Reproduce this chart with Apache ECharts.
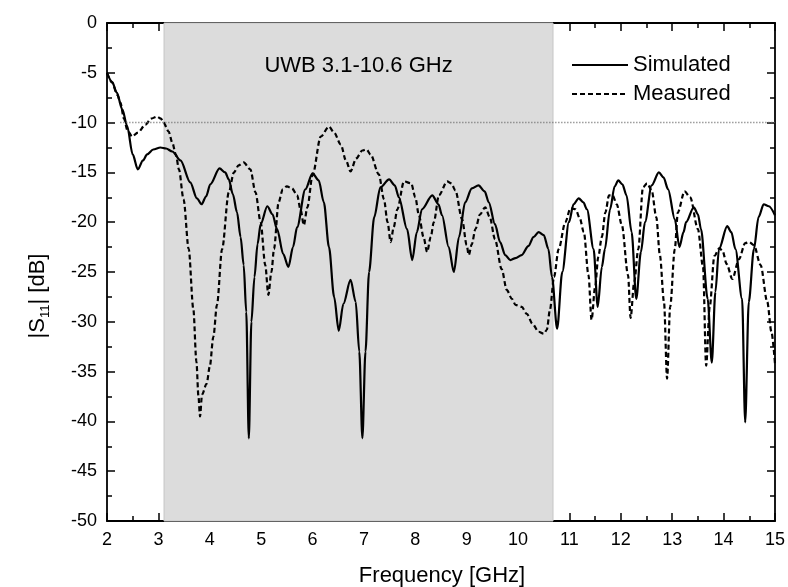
<!DOCTYPE html>
<html>
<head>
<meta charset="utf-8">
<script src="https://cdn.jsdelivr.net/npm/echarts@6/dist/echarts.min.js"></script>
<style>
html,body{margin:0;padding:0;background:#fff;}
#chart{width:788px;height:587px;}
</style>
</head>
<body>
<div id="chart"></div>
<script>
// ---- Data ----
const xTicks = [2,3,4,5,6,7,8,9,10,11,12,13,14,15];
const yTicks = [0,-5,-10,-15,-20,-25,-30,-35,-40,-45,-50];
const seriesNames = ['Simulated','Measured'];
const uwbBand = [3.11, 10.68];
const uwbLabel = 'UWB 3.1-10.6 GHz';
const refLevel = -10;
const refStart = 2.26;

const simFreq = [2.0,2.1,2.19,2.3,2.39,2.5,2.6,2.7,2.78,2.9,3.04,3.15,3.27,3.43,3.62,3.75,3.84,3.93,4.01,4.19,4.3,4.37,4.45,4.53,4.6,4.66,4.71,4.76,4.81,4.87,4.93,4.99,5.12,5.22,5.31,5.43,5.53,5.62,5.7,5.86,6.0,6.12,6.22,6.32,6.42,6.51,6.6,6.74,6.84,6.91,6.97,7.03,7.1,7.2,7.32,7.49,7.6,7.68,7.84,7.94,8.03,8.13,8.33,8.45,8.52,8.65,8.75,8.85,8.97,9.1,9.23,9.35,9.43,9.55,9.65,9.75,9.85,9.95,10.07,10.2,10.3,10.4,10.5,10.59,10.66,10.76,10.86,10.99,11.08,11.18,11.27,11.34,11.47,11.55,11.63,11.69,11.79,11.88,11.95,12.03,12.11,12.21,12.3,12.39,12.47,12.6,12.74,12.83,12.92,13.05,13.14,13.22,13.27,13.42,13.5,13.56,13.69,13.77,13.84,13.91,14.07,14.15,14.23,14.36,14.42,14.49,14.59,14.68,14.78,14.88,15.0];
const simDb = [-5.0,-5.9,-7.0,-8.7,-10.3,-13.2,-14.7,-13.8,-13.2,-12.7,-12.5,-12.6,-12.9,-13.8,-16.0,-17.6,-18.2,-17.4,-16.2,-14.6,-15.0,-15.7,-17.2,-19.0,-21.5,-24.3,-29,-41.7,-30,-25.5,-22.2,-20.2,-18.4,-19.2,-20.7,-23.2,-24.5,-22.5,-20.5,-16.7,-15.1,-15.8,-18,-22.5,-27.5,-30.9,-28.2,-25.8,-28,-33,-41.7,-33,-25,-19.5,-16.5,-15.7,-16.3,-17.5,-20.7,-23.8,-21,-18.7,-17.3,-18.2,-19.3,-22.5,-25,-21.5,-18,-16.6,-16.3,-16.9,-18,-20.2,-22,-23.3,-23.8,-23.6,-23.3,-22.4,-21.5,-21,-21.3,-22.7,-25.5,-30.7,-25,-20,-18.2,-17.6,-18,-18.7,-22.7,-28.5,-24.5,-22.7,-18.7,-16.4,-15.8,-16.2,-17.3,-21,-27.7,-23,-20,-16.3,-15.0,-15.5,-16.7,-19.7,-22.5,-21,-20,-18.5,-19.2,-20.7,-27.7,-34.1,-27,-22.7,-20.4,-21,-22.7,-27.7,-40.1,-28,-22.7,-19.5,-18.2,-18.4,-19.3];

const measFreq = [2.0,2.1,2.2,2.26,2.33,2.4,2.49,2.6,2.75,2.86,2.97,3.05,3.1,3.2,3.27,3.34,3.4,3.49,3.59,3.68,3.74,3.78,3.81,3.85,3.94,4.0,4.07,4.14,4.24,4.37,4.47,4.56,4.66,4.79,4.89,4.99,5.08,5.14,5.2,5.25,5.34,5.42,5.5,5.6,5.7,5.77,5.83,5.9,6.0,6.16,6.32,6.42,6.55,6.65,6.74,6.85,6.97,7.05,7.13,7.29,7.39,7.46,7.52,7.58,7.65,7.78,7.92,8.0,8.07,8.16,8.23,8.3,8.36,8.46,8.62,8.7,8.78,8.91,9.0,9.04,9.1,9.17,9.26,9.36,9.45,9.55,9.68,9.78,9.88,9.95,10.07,10.17,10.28,10.4,10.5,10.56,10.62,10.7,10.79,10.92,11.02,11.12,11.2,11.28,11.37,11.43,11.5,11.56,11.63,11.7,11.77,11.84,11.92,12.02,12.14,12.19,12.26,12.34,12.43,12.51,12.6,12.69,12.76,12.84,12.9,12.96,13.05,13.11,13.24,13.35,13.5,13.6,13.66,13.73,13.82,13.92,13.98,14.06,14.17,14.3,14.42,14.5,14.59,14.72,14.85,14.93,15.0];
const measDb = [-5.0,-6.0,-7.2,-8.0,-9.6,-10.8,-11.4,-11.0,-10.2,-9.6,-9.4,-9.6,-10.0,-10.9,-12.0,-13.2,-14.7,-17.7,-22.7,-28.7,-34,-37.5,-39.5,-37.3,-36.2,-34.5,-31.5,-28.3,-22.7,-17.0,-15.0,-14.3,-14.0,-14.7,-17.0,-20.0,-24.3,-27.3,-25,-22.7,-18.0,-16.7,-16.4,-16.6,-17.3,-18.8,-20.3,-18.5,-15.3,-11.4,-10.4,-11,-12.2,-13.8,-14.9,-13.6,-12.8,-12.7,-13.2,-15.2,-17.7,-20,-22.0,-20.5,-18.7,-15.9,-16.1,-17.5,-19.3,-21.5,-23.0,-21.5,-20.0,-17.3,-15.9,-16.1,-16.8,-19.7,-22.3,-23.3,-22.2,-20.7,-19.2,-18.5,-19.5,-21.7,-24.7,-26.8,-27.7,-28.3,-28.5,-29.2,-30.2,-31.0,-31.2,-30.8,-28.8,-25.5,-22.7,-20.0,-18.6,-18.7,-19.6,-21.0,-25.3,-29.8,-26.5,-23.5,-21.5,-19.0,-17.3,-17.3,-18.2,-20.3,-25.3,-29.6,-26.0,-22.7,-16.5,-16.1,-16.8,-19.5,-23.3,-28.0,-35.7,-28.5,-22.7,-19.0,-16.9,-17.5,-20.7,-24.5,-34.4,-28.5,-23.4,-22.6,-22.9,-24.2,-25.7,-23.7,-22.1,-22,-22.3,-24.3,-28.0,-31.0,-34.2];

// ---- Chart ----
const FONT = '"Liberation Sans", Arial, Helvetica, sans-serif';
const pairs = (xs, ys) => xs.map((x, i) => [x, ys[i]]);

const chart = echarts.init(document.getElementById('chart'), null, {renderer: 'canvas'});

function axisCommon(showLabel) {
  return {
    axisLine: {show: true, onZero: false, lineStyle: {color: '#000', width: 1.8}},
    axisTick: {show: true, inside: true, length: 8, lineStyle: {color: '#000', width: 1.5}},
    minorTick: {show: true, splitNumber: 2, length: 5, lineStyle: {color: '#000', width: 1.5}},
    splitLine: {show: false},
    minorSplitLine: {show: false},
    axisLabel: {show: showLabel, color: '#000', fontSize: 18, fontFamily: FONT, margin: 10}
  };
}

const option = {
  animation: false,
  backgroundColor: '#fff',
  grid: {left: 107, right: 11, top: 23, bottom: 66, containLabel: false},
  xAxis: [
    Object.assign({type: 'value', min: xTicks[0], max: xTicks[xTicks.length-1], interval: 1, position: 'bottom'}, axisCommon(true)),
    Object.assign({type: 'value', min: xTicks[0], max: xTicks[xTicks.length-1], interval: 1, position: 'top'}, axisCommon(false))
  ],
  yAxis: [
    Object.assign({type: 'value', min: yTicks[yTicks.length-1], max: yTicks[0], interval: 5, position: 'left'}, axisCommon(true)),
    Object.assign({type: 'value', min: yTicks[yTicks.length-1], max: yTicks[0], interval: 5, position: 'right'}, axisCommon(false))
  ],
  legend: {
    orient: 'vertical',
    left: 566,
    top: 47,
    itemWidth: 56,
    itemHeight: 14,
    itemGap: 3,
    itemStyle: {opacity: 0},
    textStyle: {fontSize: 22, fontFamily: FONT, color: '#000', lineHeight: 26},
    data: seriesNames
  },
  graphic: [
    {
      type: 'text',
      rotation: Math.PI / 2,
      x: 38, y: 296,
      style: {
        text: '{a||S}{b|11}{a|| [dB]}',
        font: '22px ' + FONT,
        fill: '#000',
        align: 'center',
        verticalAlign: 'middle',
        rich: {
          a: {fontSize: 22, fontFamily: FONT, lineHeight: 28, fill: '#000'},
          b: {fontSize: 13, fontFamily: FONT, lineHeight: 28, verticalAlign: 'bottom', fill: '#000'}
        }
      }
    },
    {
      type: 'text',
      x: 442, y: 576,
      style: {
        text: 'Frequency [GHz]',
        font: '22px ' + FONT,
        fill: '#000',
        align: 'center',
        verticalAlign: 'middle'
      }
    }
  ],
  series: [
    {
      name: seriesNames[0],
      type: 'line',
      data: pairs(simFreq, simDb),
      showSymbol: false,
      symbol: 'none',
      smooth: 0.3,
      smoothMonotone: 'x',
      z: 4,
      lineStyle: {color: '#000', width: 2.2, type: 'solid'},
      itemStyle: {color: '#000'},
      markArea: {
        silent: true,
        itemStyle: {color: '#dcdcdc', borderColor: '#c6c6c6', borderWidth: 1},
        label: {show: true, position: 'insideTop', distance: 32, color: '#000', fontSize: 22, fontFamily: FONT},
        data: [[{xAxis: uwbBand[0], name: uwbLabel}, {xAxis: uwbBand[1]}]]
      },
      markLine: {
        silent: true,
        symbol: 'none',
        label: {show: false},
        lineStyle: {color: '#6a6a6a', width: 1.3, type: [1, 2]},
        data: [[{coord: [refStart, refLevel]}, {coord: [xTicks[xTicks.length-1], refLevel]}]]
      }
    },
    {
      name: seriesNames[1],
      type: 'line',
      data: pairs(measFreq, measDb),
      showSymbol: false,
      symbol: 'none',
      smooth: 0.3,
      smoothMonotone: 'x',
      z: 3,
      lineStyle: {color: '#000', width: 2.2, type: [5, 3]},
      itemStyle: {color: '#000'}
    }
  ]
};
chart.setOption(option);
</script>
</body>
</html>
